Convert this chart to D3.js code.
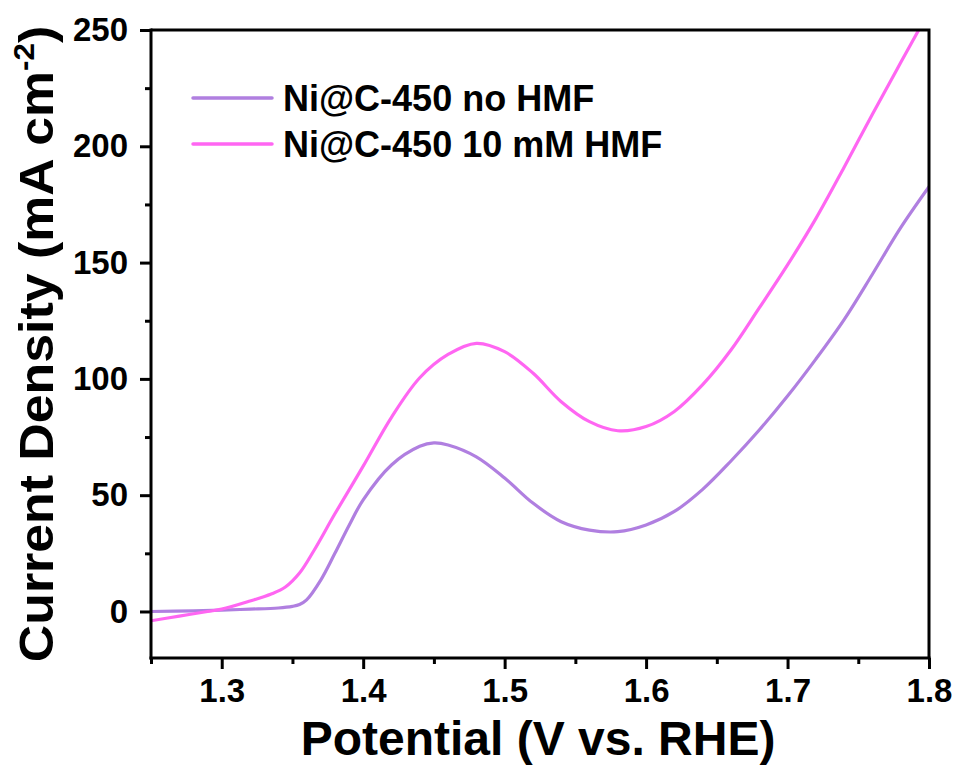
<!DOCTYPE html>
<html>
<head>
<meta charset="utf-8">
<script src="https://cdn.jsdelivr.net/npm/d3@7"></script>
<style>
  html, body { margin: 0; padding: 0; background: #fff; }
  svg { display: block; font-family: "Liberation Sans", Arial, sans-serif; font-weight: bold; }
</style>
</head>
<body>
<svg id="chart" width="958" height="773"></svg>
<script>
// ---- data ----
const seriesNames = ["Ni@C-450 no HMF", "Ni@C-450 10 mM HMF"];
const seriesColors = ["#B07FE0", "#FF66F2"];

const xNoHMF = [1.25, 1.28, 1.30, 1.32, 1.34, 1.35, 1.355, 1.36, 1.37, 1.38, 1.39, 1.40, 1.42, 1.44, 1.45, 1.46, 1.48, 1.50, 1.52, 1.54, 1.56, 1.58, 1.60, 1.62, 1.64, 1.66, 1.68, 1.70, 1.72, 1.74, 1.76, 1.78, 1.80];
const yNoHMF = [0, 0.3, 0.6, 1.0, 1.5, 2.2, 3, 5, 13.5, 25, 37, 48, 63, 71, 72.5, 71.6, 66.5, 57.4, 46.6, 38.6, 35, 34.3, 37.2, 43, 52.5, 64.7, 78, 92.6, 108.5, 125.5, 145, 165, 182.6];

const xHMF = [1.25, 1.27, 1.29, 1.30, 1.32, 1.335, 1.345, 1.355, 1.365, 1.38, 1.40, 1.42, 1.44, 1.46, 1.48, 1.50, 1.52, 1.54, 1.56, 1.58, 1.60, 1.62, 1.64, 1.66, 1.68, 1.70, 1.72, 1.74, 1.76, 1.78, 1.80];
const yHMF = [-4, -2, 0, 1, 4.5, 7.5, 10.5, 16.5, 26, 42, 62.5, 83.5, 100.5, 110.5, 115.3, 111.7, 102.5, 90.2, 81.6, 77.7, 79.5, 86, 97.5, 112.4, 130.5, 149, 168.9, 191, 213.8, 236, 258];

const xTicks = [1.3, 1.4, 1.5, 1.6, 1.7, 1.8];
const xMinorTicks = [1.25, 1.35, 1.45, 1.55, 1.65, 1.75];
const yTicks = [0, 50, 100, 150, 200, 250];
const yMinorTicks = [25, 75, 125, 175, 225];

const xLabel = "Potential (V vs. RHE)";

// ---- layout ----
const svg = d3.select("#chart");
const L = 151, R = 929, T = 30, B = 658;

const x = d3.scaleLinear().domain([1.25, 1.8]).range([L, R]);
const y = d3.scaleLinear().domain([-20, 250]).range([B, T]);

// clip
svg.append("defs").append("clipPath").attr("id", "clip")
  .append("rect").attr("x", L).attr("y", T).attr("width", R - L).attr("height", B - T);

// lines
const line = d3.line().x(d => x(d[0])).y(d => y(d[1])).curve(d3.curveCatmullRom.alpha(0.5));
const series = [
  d3.zip(xNoHMF, yNoHMF),
  d3.zip(xHMF, yHMF)
];
const g = svg.append("g").attr("clip-path", "url(#clip)");
series.forEach((s, i) => {
  g.append("path").datum(s)
    .attr("d", line)
    .attr("fill", "none")
    .attr("stroke", seriesColors[i])
    .attr("stroke-width", 3.2)
    .attr("stroke-linejoin", "round")
    .attr("stroke-linecap", "round");
});

// frame top/right
svg.append("path")
  .attr("d", `M${L},${T}H${R}V${B}`)
  .attr("fill", "none").attr("stroke", "#000").attr("stroke-width", 3);

// x axis
const xAxis = d3.axisBottom(x).tickValues(xTicks).tickFormat(d3.format(".1f")).tickSize(11).tickPadding(10);
const gx = svg.append("g").attr("transform", `translate(0,${B})`).call(xAxis);
gx.select(".domain").attr("stroke-width", 3).attr("d", `M${L - 1.5},0H${R + 1.5}`);
gx.selectAll(".tick line").attr("stroke-width", 3);
gx.selectAll(".tick text").attr("font-size", 33).attr("font-weight", "bold").attr("font-family", "Liberation Sans, Arial, sans-serif").attr("fill", "#000");
const gxm = svg.append("g").attr("transform", `translate(0,${B})`).call(d3.axisBottom(x).tickValues(xMinorTicks).tickSize(6).tickFormat(""));
gxm.select(".domain").remove();
gxm.selectAll(".tick line").attr("stroke-width", 3);

// y axis
const yAxis = d3.axisLeft(y).tickValues(yTicks).tickSize(11).tickPadding(12);
const gy = svg.append("g").attr("transform", `translate(${L},0)`).call(yAxis);
gy.select(".domain").attr("stroke-width", 3).attr("d", `M0,${B + 1.5}V${T - 1.5}`);
gy.selectAll(".tick line").attr("stroke-width", 3);
gy.selectAll(".tick text").attr("font-size", 33).attr("font-weight", "bold").attr("font-family", "Liberation Sans, Arial, sans-serif").attr("fill", "#000");
const gym = svg.append("g").attr("transform", `translate(${L},0)`).call(d3.axisLeft(y).tickValues(yMinorTicks).tickSize(6).tickFormat(""));
gym.select(".domain").remove();
gym.selectAll(".tick line").attr("stroke-width", 3);

// axis titles
svg.append("text")
  .attr("x", (L + R) / 2 - 2).attr("y", 755)
  .attr("text-anchor", "middle")
  .attr("font-size", 48).attr("fill", "#000")
  .text(xLabel);

const yt = svg.append("text")
  .attr("transform", `translate(53,${(T + B) / 2}) rotate(-90) scale(1.08,1)`)
  .attr("text-anchor", "middle")
  .attr("font-size", 48).attr("fill", "#000");
yt.append("tspan").text("Current Density (mA cm");
yt.append("tspan").attr("font-size", 29).attr("dy", -19).text("-2");
yt.append("tspan").attr("dy", 19).text(")");

// legend
const legY = [98, 144];
seriesNames.forEach((name, i) => {
  svg.append("line")
    .attr("x1", 193).attr("x2", 272).attr("y1", legY[i]).attr("y2", legY[i])
    .attr("stroke", seriesColors[i]).attr("stroke-width", 3.5).attr("stroke-linecap", "round");
  svg.append("text")
    .attr("x", 283).attr("y", legY[i] + 12.5)
    .attr("font-size", 36).attr("fill", "#000")
    .text(name);
});
</script>
</body>
</html>
